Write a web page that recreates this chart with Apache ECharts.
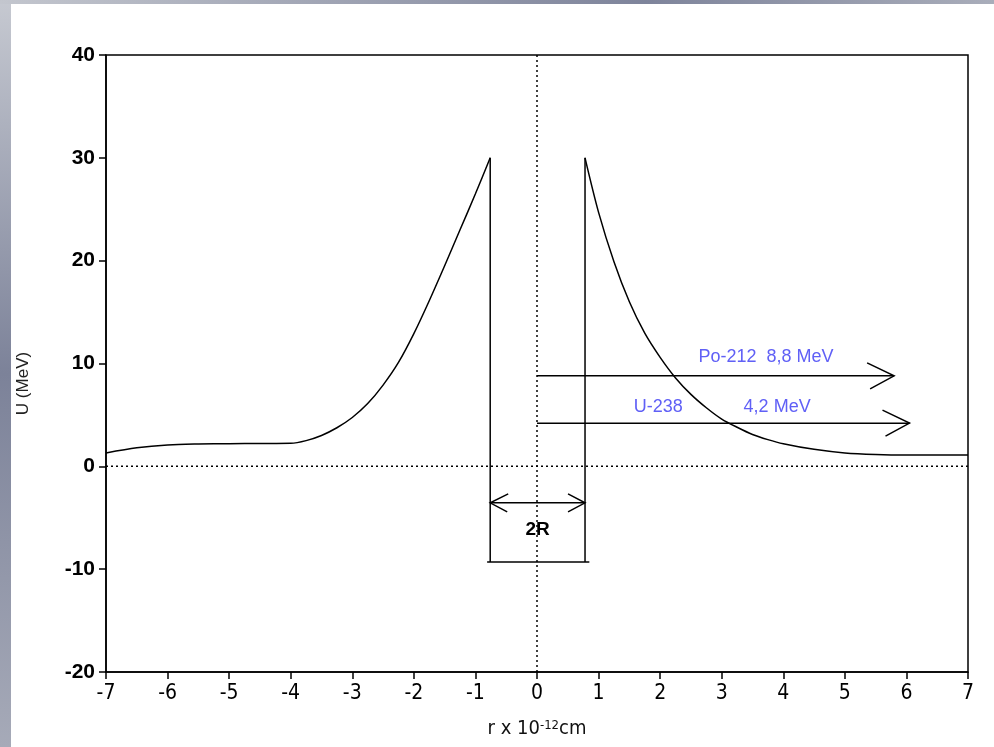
<!DOCTYPE html>
<html>
<head>
<meta charset="utf-8">
<title>Alpha decay potential barrier</title>
<script src="https://cdn.jsdelivr.net/npm/echarts@6/dist/echarts.min.js"></script>
<style>
  html, body { margin: 0; padding: 0; background: #ffffff; }
  #chart { width: 994px; height: 747px; }
</style>
</head>
<body>
<div id="chart"></div>
<script>
// Potential energy U(r) of an alpha particle near a nucleus (r in 1e-12 cm, U in MeV)
const leftBarrierX = [-7, -6.5, -6.0, -5.5, -5.0, -4.5, -4.0, -3.75, -3.5, -3.25, -3.0, -2.75, -2.5, -2.25, -2.0, -1.75, -1.5, -1.25, -1.0, -0.76];
const leftBarrierU = [1.3, 1.8, 2.08, 2.17, 2.2, 2.22, 2.24, 2.5, 3.0, 3.75, 4.75, 6.1, 7.9, 10.1, 12.9, 16.1, 19.5, 23.0, 26.5, 30];

const rightBarrierX = [0.78, 1.0, 1.25, 1.5, 1.75, 2.0, 2.25, 2.5, 2.75, 3.0, 3.25, 3.5, 3.75, 4.0, 4.5, 5.0, 5.5, 6.0, 7.0];
const rightBarrierU = [30, 24.7, 19.9, 16.0, 12.95, 10.6, 8.6, 7.0, 5.7, 4.6, 3.8, 3.1, 2.6, 2.2, 1.65, 1.3, 1.15, 1.1, 1.1];

// Nuclear well: edges at r = ±R, depth and barrier top
const wellEdgeX = [-0.76, 0.78];
const wellBottomX = [-0.81, 0.85];
const wellDepth = -9.3;
const barrierTop = 30;
const diameterMarkU = -3.55;

// Alpha energies (MeV) and where their arrows end
const alphaNuclides = ['Po-212', 'U-238'];
const alphaEnergy = [8.8, 4.2];
const alphaArrowEnd = [5.8, 6.05];

// Axis ranges
const xRange = [-7, 7];
const uRange = [-20, 40];

const pairs = (xs, ys) => xs.map((x, i) => [x, ys[i]]);

const chart = echarts.init(document.getElementById('chart'), null, { renderer: 'canvas' });

const tickFont = "'Liberation Sans', Arial, sans-serif";
const narrowFont = "'Liberation Sans Narrow', 'DejaVu Sans Condensed', 'Liberation Sans', sans-serif";
const blue = '#6060f6';

const plainLine = (data, extra) => Object.assign({
  type: 'line', data: data, symbol: 'none', silent: true,
  lineStyle: { color: '#000', width: 1.5 }
}, extra || {});

const option = {
  animation: false,
  backgroundColor: '#ffffff',
  grid: { left: 106, right: 26, top: 55, bottom: 75, show: true, borderColor: '#000', borderWidth: 1.5, backgroundColor: 'transparent' },
  graphic: [
    {
      type: 'rect', left: 0, top: 0, z: -10, silent: true,
      shape: { width: 11, height: 747 },
      style: { fill: new echarts.graphic.LinearGradient(0, 0, 0, 1, [
        { offset: 0, color: '#c6c9d1' }, { offset: 0.5, color: '#7c8299' }, { offset: 1, color: '#a6aab8' }
      ]) }
    },
    {
      type: 'rect', left: 0, top: 0, z: -10, silent: true,
      shape: { width: 994, height: 4 },
      style: { fill: new echarts.graphic.LinearGradient(0, 0, 1, 0, [
        { offset: 0, color: '#c3c6ce' }, { offset: 0.65, color: '#7e849b' }, { offset: 1, color: '#a9adba' }
      ]) }
    }
  ],
  xAxis: {
    type: 'value', min: xRange[0], max: xRange[1], interval: 1,
    name: 'r x 10{sup|-12}cm',
    nameLocation: 'middle', nameGap: 47,
    nameTextStyle: {
      fontFamily: narrowFont, fontSize: 20, color: '#111',
      rich: { sup: { fontFamily: narrowFont, fontSize: 13, verticalAlign: 'top', color: '#111' } }
    },
    axisLine: { onZero: false, lineStyle: { color: '#000', width: 1.5 } },
    axisTick: { show: true, length: 7, inside: false, lineStyle: { color: '#000', width: 1.5 } },
    axisLabel: { fontFamily: narrowFont, fontSize: 21, color: '#000', margin: 11 },
    splitLine: { show: false }
  },
  yAxis: {
    type: 'value', min: uRange[0], max: uRange[1], interval: 10,
    name: 'U (MeV)',
    nameLocation: 'middle', nameGap: 74, nameRotate: 90,
    nameTextStyle: { fontFamily: tickFont, fontSize: 17, color: '#222', padding: [0, 40, 0, 0] },
    axisLine: { onZero: false, lineStyle: { color: '#000', width: 1.5 } },
    axisTick: { show: true, length: 7, inside: false, lineStyle: { color: '#000', width: 1.5 } },
    axisLabel: { fontFamily: tickFont, fontSize: 21, fontWeight: 'bold', color: '#000', margin: 11 },
    splitLine: { show: false }
  },
  series: [
    // dotted reference axes through the origin
    plainLine([[xRange[0], 0], [xRange[1], 0]], { lineStyle: { color: '#000', width: 1.5, type: [2, 3] } }),
    plainLine([[0, uRange[0]], [0, uRange[1]]], { lineStyle: { color: '#000', width: 1.5, type: [2, 3] } }),
    // Coulomb barrier on each side
    plainLine(pairs(leftBarrierX, leftBarrierU), { smooth: 0.3 }),
    plainLine(pairs(rightBarrierX, rightBarrierU), { smooth: 0.3 }),
    // well walls and floor
    plainLine([[wellEdgeX[0], barrierTop], [wellEdgeX[0], wellDepth]]),
    plainLine([[wellEdgeX[1], barrierTop], [wellEdgeX[1], wellDepth]]),
    plainLine([[wellBottomX[0], wellDepth], [wellBottomX[1], wellDepth]]),
    // 2R dimension arrow
    {
      type: 'custom', silent: true,
      data: [[wellEdgeX[0], wellEdgeX[1], diameterMarkU]],
      renderItem: function (params, api) {
        const a = api.coord([api.value(0), api.value(2)]);
        const b = api.coord([api.value(1), api.value(2)]);
        const s = { stroke: '#000', lineWidth: 1.5, fill: null };
        return {
          type: 'group', children: [
            { type: 'line', shape: { x1: a[0], y1: a[1], x2: b[0], y2: b[1] }, style: s },
            { type: 'polyline', shape: { points: [[a[0] + 18, a[1] - 9], [a[0], a[1]], [a[0] + 17, a[1] + 9]] }, style: s },
            { type: 'polyline', shape: { points: [[b[0] - 17, b[1] - 9], [b[0], b[1]], [b[0] - 17, b[1] + 9]] }, style: s },
            { type: 'text', x: (a[0] + b[0]) / 2, y: a[1] + 27,
              style: { text: '2R', fill: '#000', font: "bold 19px 'Liberation Sans', Arial, sans-serif", align: 'center', verticalAlign: 'middle' } }
          ]
        };
      }
    },
    // alpha particle energy levels
    {
      type: 'custom', silent: true,
      data: alphaEnergy.map((e, i) => [0, alphaArrowEnd[i], e, i]),
      renderItem: function (params, api) {
        const a = api.coord([api.value(0), api.value(2)]);
        const b = api.coord([api.value(1), api.value(2)]);
        const s = { stroke: '#000', lineWidth: 1.5, fill: null };
        const i = api.value(3);
        const font = "18px 'Liberation Sans', Arial, sans-serif";
        const energyText = String(alphaEnergy[i]).replace('.', ',') + ' MeV';
        const children = [
          { type: 'line', shape: { x1: a[0], y1: a[1], x2: b[0], y2: b[1] }, style: s },
          { type: 'polyline', shape: { points: [[b[0] - 27, b[1] - 13], [b[0], b[1]], [b[0] - 24, b[1] + 13]] }, style: s }
        ];
        if (i === 0) {
          const c = api.coord([3.72, alphaEnergy[i]]);
          children.push({ type: 'text', x: c[0], y: c[1] - 19,
            style: { text: alphaNuclides[i] + '  ' + energyText, fill: blue, font: font, align: 'center', verticalAlign: 'middle' } });
        } else {
          const c1 = api.coord([1.97, alphaEnergy[i]]);
          const c2 = api.coord([3.9, alphaEnergy[i]]);
          children.push({ type: 'text', x: c1[0], y: c1[1] - 16,
            style: { text: alphaNuclides[i], fill: blue, font: font, align: 'center', verticalAlign: 'middle' } });
          children.push({ type: 'text', x: c2[0], y: c2[1] - 16,
            style: { text: energyText, fill: blue, font: font, align: 'center', verticalAlign: 'middle' } });
        }
        return { type: 'group', children: children };
      }
    }
  ]
};

chart.setOption(option);
</script>
</body>
</html>
